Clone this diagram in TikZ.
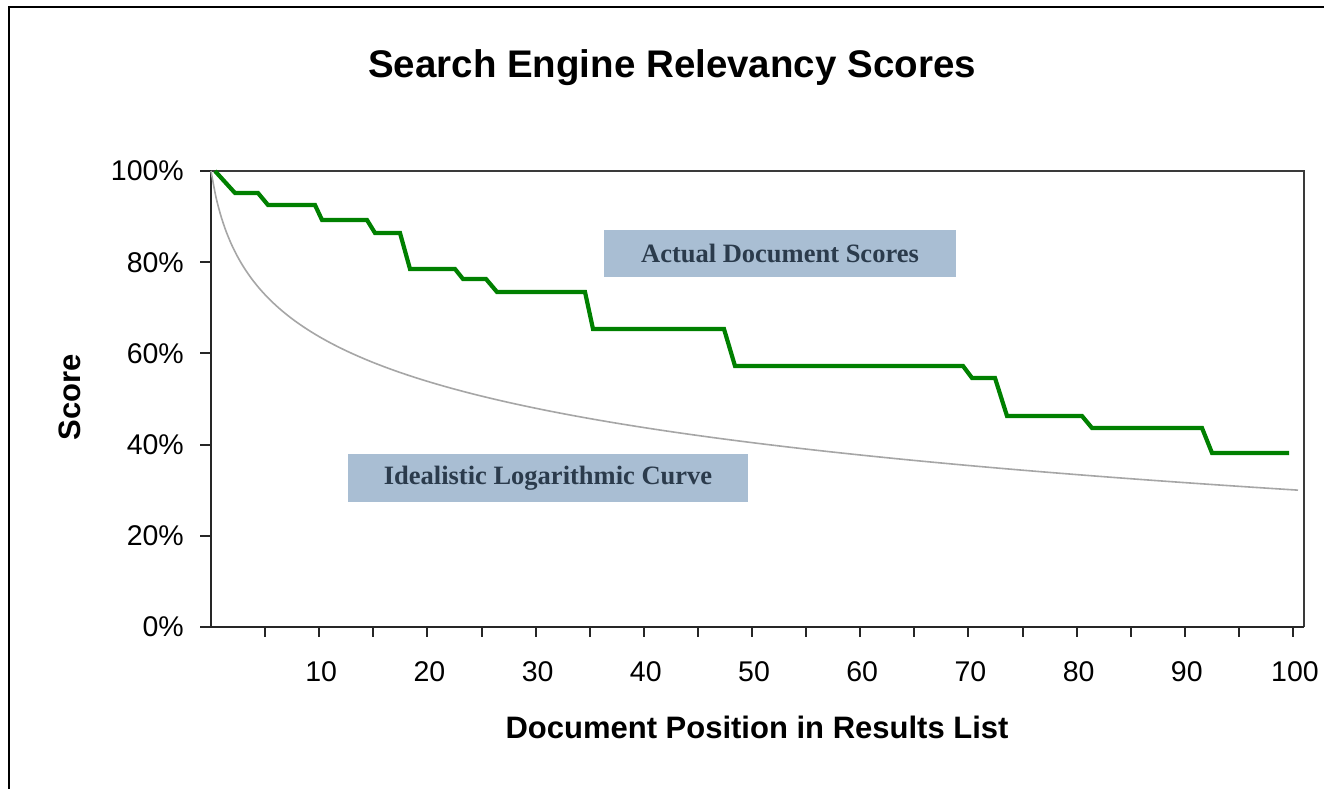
\documentclass[tikz,border=0pt]{standalone}
\usepackage{fontspec}
\setmainfont{Liberation Sans}
\newfontfamily\calloutfont{Liberation Serif}

\definecolor{seriesgreen}{HTML}{008000}
\definecolor{idealgray}{HTML}{A6A6A6}
\definecolor{calloutfill}{HTML}{A9BED3}
\definecolor{callouttext}{HTML}{2B3B4C}
\definecolor{framegray}{HTML}{3A3A3A}

\tikzset{
  ticklabel/.style={font=\fontsize{28.5}{32}\selectfont, inner sep=0pt},
  charttitle/.style={font=\fontsize{38.5}{44}\selectfont\bfseries, inner sep=0pt},
  axistitle/.style={font=\fontsize{31}{35}\selectfont\bfseries, inner sep=0pt},
  callout/.style={fill=calloutfill, text=callouttext, inner sep=0pt,
    font=\fontsize{26.5}{30}\calloutfont\bfseries},
  axisline/.style={line width=2pt, black!85},
  tickmark/.style={line width=2pt, black!85},
  actualcurve/.style={line width=4.2pt, seriesgreen, line join=miter},
  idealcurve/.style={line width=1.6pt, idealgray},
}

\begin{document}
\begin{tikzpicture}[x=1pt, y=-1pt]
  \useasboundingbox (0,0) rectangle (1324,789);
  \fill[white] (0,0) rectangle (1324,789);

  % outer chart frame (runs off the right and bottom edges)
  \draw[line width=2.8pt, black] (9,789) -- (9,7) -- (1324,7);

  % title
  \node[charttitle] (title) at (672,68) {Search Engine Relevancy Scores};

  % plot area frame and axes
  \coordinate (origin) at (211,627);
  \coordinate (topleft) at (211,171);
  \coordinate (topright) at (1304,171);
  \coordinate (bottomright) at (1304,627);
  \draw[line width=2pt, framegray] (topleft) -- (topright) -- (bottomright);
  \draw[axisline] (topleft) -- (origin) -- (bottomright);

  % y ticks and labels
  \foreach \v in {0,20,...,100} {
    \pgfmathsetmacro{\yy}{627-4.56*\v}
    \draw[tickmark] (200,\yy) -- (211,\yy);
    \node[ticklabel, anchor=east] (ylab\v) at (184,\yy) {\v\%};
  }

  % x ticks every 5, labels every 10
  \foreach \n in {5,10,...,100} {
    \pgfmathsetmacro{\xx}{211+10.82*\n}
    \draw[tickmark] (\xx,627) -- (\xx,637);
  }
  \foreach \n in {10,20,...,100} {
    \pgfmathsetmacro{\xx}{213+10.82*\n}
    \node[ticklabel] (xlab\n) at (\xx,672) {\n};
  }

  % axis titles
  \node[axistitle] (xtitle) at (757,727) {Document Position in Results List};
  \node[axistitle, rotate=90] (ytitle) at (70,397) {Score};

  % idealistic logarithmic curve
  \draw[idealcurve] plot[domain=0:1087, samples=220, smooth]
    ({211+\x}, {627-4.56*(100-15.15*ln(1+\x/10.82))});

  % actual document scores
  \draw[actualcurve]
    (215,171) -- (235,193) -- (258,193) -- (268,205) -- (315,205) --
    (322,220) -- (367,220) -- (375,233) -- (400,233) -- (410,269) --
    (455,269) -- (463,279) -- (486,279) -- (497,292) -- (585,292) --
    (593,329) -- (724,329) -- (735,366) -- (963,366) -- (972,378) --
    (995,378) -- (1007,416) -- (1082,416) -- (1092,428) -- (1202,428) --
    (1212,453) -- (1289,453);

  % callout labels
  \node[callout, minimum width=352pt, minimum height=47pt] (actual) at (780,253.5) {Actual Document Scores};
  \node[callout, minimum width=400pt, minimum height=48pt] (ideal) at (548,478) {Idealistic Logarithmic Curve};
\end{tikzpicture}
\end{document}
